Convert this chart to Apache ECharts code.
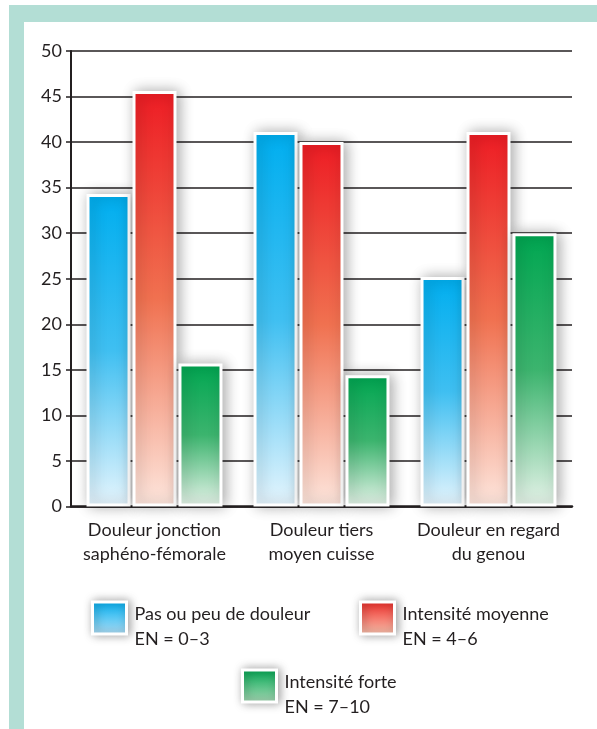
<!DOCTYPE html>
<html>
<head>
<meta charset="utf-8">
<script src="https://cdn.jsdelivr.net/npm/echarts@6/dist/echarts.min.js"></script>
<style>
html,body{margin:0;padding:0;background:#fff;}
#chart{width:597px;height:729px;}
</style>
</head>
<body>
<div id="chart"></div>
<script>
const categories = ['Douleur jonction\nsaphéno-fémorale', 'Douleur tiers\nmoyen cuisse', 'Douleur en regard\ndu genou'];
const seriesNames = ['Pas ou peu de douleur\nEN = 0–3', 'Intensité moyenne\nEN = 4–6', 'Intensité forte\nEN = 7–10'];
const lowPain = [34.3, 41.1, 25.2];
const mediumPain = [45.6, 40.0, 41.1];
const strongPain = [15.7, 14.4, 30.0];
const yTicks = [0, 5, 10, 15, 20, 25, 30, 35, 40, 45, 50];

const FONT = 'Lato';
const TXT = '#231f20';

function grad(stops) {
  return new echarts.graphic.LinearGradient(0, 0, 0, 1, stops.map((c, i) => ({offset: i / (stops.length - 1), color: c})));
}
const barGrads = [
  grad(['#00aeef', '#3fbff1', '#e6f5fd']),
  grad(['#ed1c24', '#f07150', '#fde6dd']),
  grad(['#00a651', '#3cb46e', '#e6f3e9'])
];
const legendGrads = [
  grad(['#00aeef', '#b5e1f8']),
  grad(['#ed2a26', '#fbc7b2']),
  grad(['#00a651', '#acdbb9'])
];
const values = [lowPain, mediumPain, strongPain];

const barStyle = (i) => ({
  color: barGrads[i],
  borderColor: '#ffffff',
  borderWidth: 3,
  shadowColor: 'rgba(0,0,0,0.32)',
  shadowBlur: 14,
  shadowOffsetX: 3,
  shadowOffsetY: 0
});

const legendPos = [
  {left: 91, top: 588},
  {left: 359, top: 588},
  {left: 241, top: 656}
];

const chart = echarts.init(document.getElementById('chart'), null, {renderer: 'canvas'});
chart.setOption({
  animation: false,
  backgroundColor: '#ffffff',
  graphic: [
    {type: 'rect', shape: {x: 9, y: 5, width: 588, height: 17}, style: {fill: '#b3ded5'}, z: 0},
    {type: 'rect', shape: {x: 9, y: 5, width: 15, height: 724}, style: {fill: '#b3ded5'}, z: 0}
  ],
  grid: {left: 71, right: 25, top: 51, bottom: 222.5},
  xAxis: {
    type: 'category',
    data: categories,
    axisLine: {lineStyle: {color: TXT, width: 2.5}},
    axisTick: {length: 9, lineStyle: {color: TXT, width: 1.5}},
    axisLabel: {fontFamily: FONT, fontSize: 18, color: TXT, lineHeight: 24, margin: 12, interval: 0}
  },
  yAxis: {
    type: 'value',
    min: 0, max: 50, interval: 5,
    axisLine: {show: true, lineStyle: {color: TXT, width: 2}},
    axisTick: {show: true, length: 5, lineStyle: {color: TXT, width: 1.5}},
    axisLabel: {fontFamily: FONT, fontSize: 18, color: TXT, margin: 9,
      formatter: (v) => yTicks.includes(v) ? String(v) : ''},
    splitLine: {show: true, lineStyle: {color: TXT, width: 1.5}}
  },
  legend: seriesNames.map((n, i) => ({
    left: legendPos[i].left,
    top: legendPos[i].top,
    padding: 0,
    orient: 'vertical',
    icon: 'rect',
    itemWidth: 34,
    itemHeight: 32,
    selectedMode: false,
    data: [{name: n, itemStyle: {color: legendGrads[i], borderColor: '#fff', borderWidth: 3,
      shadowColor: 'rgba(0,0,0,0.35)', shadowBlur: 10, shadowOffsetX: 2}}],
    formatter: (name) => '{s| }\n' + name.split('\n').map(l => '{a|' + l + '}').join('\n'),
    textStyle: {
      fontFamily: FONT, fontSize: 18, color: TXT,
      rich: {
        s: {fontSize: 10, lineHeight: 17},
        a: {fontFamily: FONT, fontSize: 18, color: TXT, lineHeight: 25, padding: [0, 0, 0, 3]}
      }
    }
  })),
  series: seriesNames.map((n, i) => ({
    name: n,
    type: 'bar',
    data: values[i],
    barWidth: 44,
    barGap: '4.5%',
    itemStyle: barStyle(i),
    z: 3
  }))
});
</script>
</body>
</html>
